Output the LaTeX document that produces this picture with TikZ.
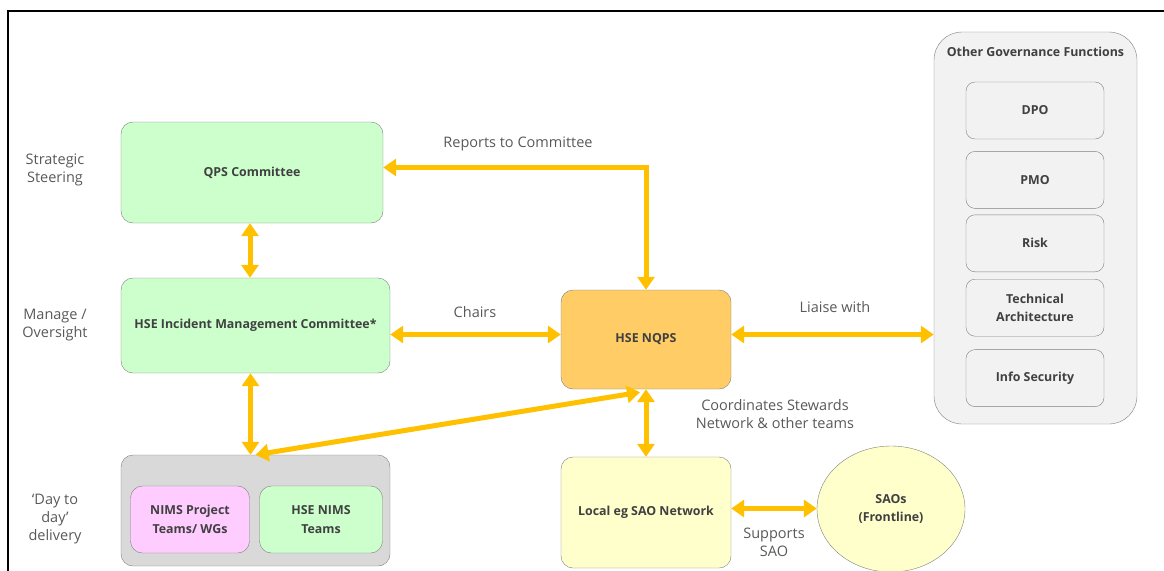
\documentclass[tikz,border=0pt]{standalone}
\usepackage{fontspec}
\setmainfont{Open Sans}
\usetikzlibrary{positioning,shapes.geometric,arrows.meta}
\definecolor{linkyellow}{HTML}{FFC000}
\definecolor{boxline}{HTML}{7F7F7F}
\definecolor{boxtext}{HTML}{404040}
\definecolor{sidetext}{HTML}{595959}
\definecolor{mint}{HTML}{CCFFCC}
\definecolor{peach}{HTML}{FFCC66}
\definecolor{cream}{HTML}{FFFFCC}
\definecolor{lilac}{HTML}{FFCCFF}
\definecolor{midgray}{HTML}{D9D9D9}
\definecolor{lightgray}{HTML}{F2F2F2}

\begin{document}
\begin{tikzpicture}[x=1pt, y=-1pt, node distance={7pt},
    main/.style = {draw=boxline, rounded corners=12pt, inner sep=0pt, align=center, text=boxtext, font=\bfseries\fontsize{12.4}{18.5}\selectfont},
    func/.style = {main, fill=lightgray, rounded corners=9pt, minimum width=138pt, minimum height=57pt},
    side/.style = {align=center, text=sidetext, font=\fontsize{14.5}{18}\selectfont},
    link/.style = {linkyellow, line width=5pt, {Triangle[width=17pt,length=13pt]}-{Triangle[width=17pt,length=13pt]}}]
    \useasboundingbox (0,0) rectangle (1164,570);
    \draw[line width=2pt] (8,11) rectangle (1180,590);
    % left column
    \node[main, fill=mint, minimum width=262pt, minimum height=101pt] (qps) at (252,172.5) {QPS Committee};
    \node[main, fill=mint, minimum width=269pt, minimum height=95pt] (imc) at (255.5,325.5) {HSE Incident Management Committee*};
    \node[main, fill=midgray, minimum width=269pt, minimum height=111pt] (grp) at (255.5,510.5) {};
    \node[main, fill=lilac, minimum width=119pt, minimum height=67pt] (proj) at (190,519.5) {NIMS Project\\Teams/ WGs};
    \node[main, fill=mint, minimum width=123pt, minimum height=67pt] (nims) at (321,519.5) {HSE NIMS\\Teams};
    % centre
    \node[main, fill=peach, minimum width=170pt, minimum height=99pt] (nqps) at (646,339.5) {HSE NQPS};
    \node[main, fill=cream, minimum width=170pt, minimum height=111pt] (local) at (646,512.5) {Local eg SAO Network};
    \node[main, ellipse, fill=cream, minimum width=148pt, minimum height=126pt] (saos) at (891,509) {SAOs\\(Frontline)};
    % other governance functions
    \node[main, fill=lightgray, rounded corners=28pt, minimum width=203pt, minimum height=392pt] (other) at (1035.5,228) {};
    \node[main, draw=none] (othertitle) at (1035.5,52) {Other Governance Functions};
    \node[func] (dpo) at (1035,110.5) {DPO};
    \node[func] (pmo) [below=12pt of dpo] {PMO};
    \node[func] (risk) [below=6pt of pmo] {Risk};
    \node[func] (tech) [below=of risk] {Technical\\Architecture};
    \node[func] (info) [below=13pt of tech] {Info Security};
    % side labels
    \node[side] (lvl1) at (55,170) {Strategic\\Steering};
    \node[side] (lvl2) at (55,325) {Manage /\\Oversight};
    \node[side] (lvl3) at (55,519) {‘Day to\\day’\\delivery};
    \node[side] (rep) at (518,144) {Reports to Committee};
    \node[side] (chairs) at (475,312) {Chairs};
    \node[side] (liaise) at (835,307) {Liaise with};
    \node[side] (coord) at (775,414) {Coordinates Stewards\\Network \& other teams};
    \node[side] (supp) at (774,542) {Supports\\SAO};
    % links
    \draw[link] ([xshift=-2pt]qps.south) -- ([xshift=-2pt]qps.south |- imc.north);
    \draw[link] ([xshift=-5pt]imc.south) -- ([xshift=-5pt]imc.south |- grp.north);
    \draw[link] ([yshift=5pt]qps.east) -| (nqps.north);
    \draw[link] ([yshift=-9pt]imc.east) -- ([yshift=-9pt]imc.east -| nqps.west);
    \draw[link] ([yshift=5pt]nqps.east) -- ([yshift=5pt]nqps.east -| other.west);
    \draw[link] ([xshift=-6pt,yshift=-3pt]nqps.south) -- (grp.north);
    \draw[link] (nqps.south) -- (local.north);
    \draw[link] ([yshift=4pt]local.east) -- ([yshift=4pt]local.east -| saos.west);
\end{tikzpicture}
\end{document}
